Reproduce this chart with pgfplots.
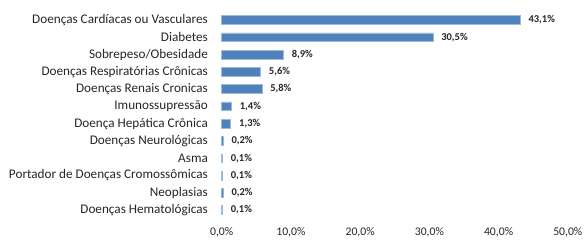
\documentclass[border=0pt]{standalone}
\usepackage{pgfplots}
\pgfplotsset{compat=1.18}
\usepackage{fontspec}
\setmainfont{Carlito}
\definecolor{barblue}{HTML}{4F81BD}
\definecolor{txt}{HTML}{262626}
\begin{document}
\begin{tikzpicture}
\begin{axis}[
  name=ax, at={(0,0)}, anchor=south west,
  scale only axis, width=346.1pt, height=207.3pt,
  xbar, bar width=8.7pt,
  xmin=0, xmax=50, ymin=-0.5, ymax=11.5, y dir=reverse,
  axis line style={draw=none}, tick style={draw=none},
  xtick={0,10,20,30,40,50},
  xticklabels={{0,0\%},{10,0\%},{20,0\%},{30,0\%},{40,0\%},{50,0\%}},
  xticklabel style={font=\fontsize{11.7}{12}\selectfont, text=txt, yshift=-5pt},
  ytick={0,...,11},
  yticklabels={Doenças Cardíacas ou Vasculares, Diabetes, Sobrepeso/Obesidade, Doenças Respiratórias Crônicas, Doenças Renais Cronicas, Imunossupressão, Doença Hepática Crônica, Doenças Neurológicas, Asma, Portador de Doenças Cromossômicas, Neoplasias, Doenças Hematológicas},
  yticklabel style={font=\fontsize{13.2}{14}\selectfont, text=txt, xshift=-6pt},
  nodes near coords={\pgfmathprintnumber[assume math mode=true, fixed, fixed zerofill, precision=1, use comma]{\pgfplotspointmeta}\%},
  nodes near coords style={font=\bfseries\fontsize{10.5}{11}\selectfont, text=txt, anchor=west, xshift=5pt},
  point meta=x,
  clip=false,
]
\addplot[fill=barblue, draw=barblue!55] coordinates {
(43.1,0) (30.5,1) (8.9,2) (5.6,3) (5.8,4) (1.4,5) (1.3,6) (0.2,7) (0.1,8) (0.1,9) (0.2,10) (0.1,11)
};
\end{axis}
\pgfresetboundingbox
\path[use as bounding box] (-221.7pt,-21.4pt) rectangle (362.3pt,218.6pt);
\end{tikzpicture}
\end{document}
